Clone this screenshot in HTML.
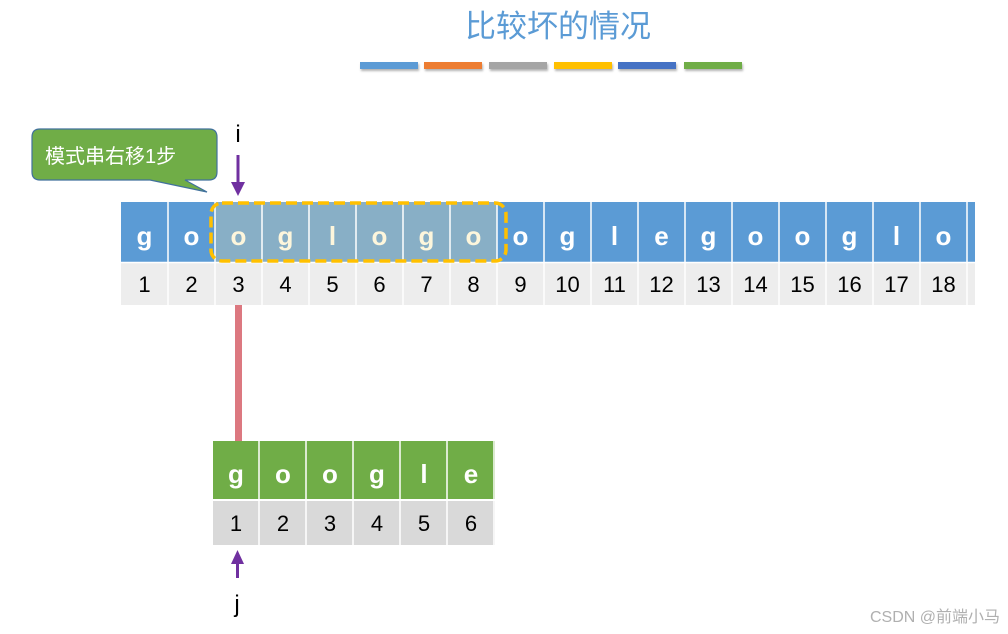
<!DOCTYPE html>
<html><head><meta charset="utf-8"><style>
html,body{margin:0;padding:0;background:#fff;}
svg{display:block;}
text{font-family:"Liberation Sans","Noto Sans CJK SC",sans-serif;}
</style></head><body>
<svg width="1008" height="634" viewBox="0 0 1008 634" xmlns="http://www.w3.org/2000/svg">
<defs><filter id="sh" x="-10%" y="-50%" width="130%" height="250%"><feDropShadow dx="1" dy="2" stdDeviation="1" flood-opacity="0.3"/></filter></defs>
<text x="558" y="37" text-anchor="middle" font-size="31" fill="#5b9bd5" font-family="Noto Sans CJK SC, sans-serif">比较坏的情况</text>
<g filter="url(#sh)">
<rect x="360" y="62" width="58" height="7" fill="#5b9bd5"/>
<rect x="424" y="62" width="58" height="7" fill="#ed7d31"/>
<rect x="489" y="62" width="58" height="7" fill="#a5a5a5"/>
<rect x="554" y="62" width="58" height="7" fill="#ffc000"/>
<rect x="618" y="62" width="58" height="7" fill="#4472c4"/>
<rect x="684" y="62" width="58" height="7" fill="#70ad47"/>
</g>
<!-- callout -->
<path d="M40,129 H209 Q217,129 217,137 V172 Q217,180 209,180 H185 L207,192 L150,180 H40 Q32,180 32,172 V137 Q32,129 40,129 Z" fill="#70ad47" stroke="#41719c" stroke-width="1.2"/>
<text x="45" y="163" font-size="20" fill="#fff" font-family="Noto Sans CJK SC, sans-serif">模式串右移1步</text>
<!-- i arrow -->
<text x="238" y="142" text-anchor="middle" font-size="24" fill="#000">i</text>
<line x1="238" y1="155" x2="238" y2="184" stroke="#7030a0" stroke-width="3"/>
<polygon points="231,182 245,182 238,196" fill="#7030a0"/>
<!-- main row -->
<g id="main">
<rect x="121" y="202" width="847" height="60" fill="#5b9bd5"/>
<rect x="968" y="202" width="7" height="60" fill="#5b9bd5"/>
<rect x="121" y="263" width="854" height="42" fill="#ededed"/>
<rect x="215" y="202" width="282" height="60" fill="#88afc6"/>
</g>
<g stroke="#fff" stroke-width="1.5">
<line x1="121" y1="262.5" x2="975" y2="262.5"/>
<line x1="168" y1="202" x2="168" y2="305"/><line x1="215" y1="202" x2="215" y2="305"/>
<line x1="262" y1="202" x2="262" y2="305"/><line x1="309" y1="202" x2="309" y2="305"/>
<line x1="356" y1="202" x2="356" y2="305"/><line x1="403" y1="202" x2="403" y2="305"/>
<line x1="450" y1="202" x2="450" y2="305"/><line x1="497" y1="202" x2="497" y2="305"/>
<line x1="544" y1="202" x2="544" y2="305"/><line x1="591" y1="202" x2="591" y2="305"/>
<line x1="638" y1="202" x2="638" y2="305"/><line x1="685" y1="202" x2="685" y2="305"/>
<line x1="732" y1="202" x2="732" y2="305"/><line x1="779" y1="202" x2="779" y2="305"/>
<line x1="826" y1="202" x2="826" y2="305"/><line x1="873" y1="202" x2="873" y2="305"/>
<line x1="920" y1="202" x2="920" y2="305"/><line x1="967" y1="202" x2="967" y2="305"/>
</g>
<g font-size="26" font-weight="bold" text-anchor="middle" fill="#fff">
<text x="144.5" y="245">g</text><text x="191.5" y="245">o</text>
<text x="238.5" y="245" fill="#fdf6dc">o</text><text x="285.5" y="245" fill="#fdf6dc">g</text>
<text x="332.5" y="245" fill="#fdf6dc">l</text><text x="379.5" y="245" fill="#fdf6dc">o</text>
<text x="426.5" y="245" fill="#fdf6dc">g</text><text x="473.5" y="245" fill="#fdf6dc">o</text>
<text x="520.5" y="245">o</text><text x="567.5" y="245">g</text>
<text x="614.5" y="245">l</text><text x="661.5" y="245">e</text>
<text x="708.5" y="245">g</text><text x="755.5" y="245">o</text>
<text x="802.5" y="245">o</text><text x="849.5" y="245">g</text>
<text x="896.5" y="245">l</text><text x="943.5" y="245">o</text>
</g>
<g font-size="22" text-anchor="middle" fill="#000">
<text x="144.5" y="292">1</text><text x="191.5" y="292">2</text><text x="238.5" y="292">3</text>
<text x="285.5" y="292">4</text><text x="332.5" y="292">5</text><text x="379.5" y="292">6</text>
<text x="426.5" y="292">7</text><text x="473.5" y="292">8</text><text x="520.5" y="292">9</text>
<text x="567.5" y="292">10</text><text x="614.5" y="292">11</text><text x="661.5" y="292">12</text>
<text x="708.5" y="292">13</text><text x="755.5" y="292">14</text><text x="802.5" y="292">15</text>
<text x="849.5" y="292">16</text><text x="896.5" y="292">17</text><text x="943.5" y="292">18</text>
</g>
<rect x="211" y="203" width="295" height="58" rx="11" fill="none" stroke="#ffc000" stroke-width="3.5" stroke-dasharray="11,5"/>
<!-- connector -->
<rect x="235" y="305" width="7" height="136" fill="#dc7880"/>
<!-- pattern -->
<rect x="213" y="441" width="282" height="58" fill="#70ad47"/>
<rect x="213" y="501" width="282" height="44" fill="#d9d9d9"/>
<g stroke="#fff" stroke-width="1.5">
<line x1="213" y1="500" x2="495" y2="500"/>
<line x1="259" y1="441" x2="259" y2="545"/><line x1="306" y1="441" x2="306" y2="545"/>
<line x1="353" y1="441" x2="353" y2="545"/><line x1="400" y1="441" x2="400" y2="545"/>
<line x1="447" y1="441" x2="447" y2="545"/><line x1="494" y1="441" x2="494" y2="545"/>
</g>
<g font-size="26" font-weight="bold" text-anchor="middle" fill="#fff">
<text x="236" y="483">g</text><text x="283" y="483">o</text><text x="330" y="483">o</text>
<text x="377" y="483">g</text><text x="424" y="483">l</text><text x="471" y="483">e</text>
</g>
<g font-size="22" text-anchor="middle" fill="#000">
<text x="236" y="531">1</text><text x="283" y="531">2</text><text x="330" y="531">3</text>
<text x="377" y="531">4</text><text x="424" y="531">5</text><text x="471" y="531">6</text>
</g>
<!-- j arrow -->
<polygon points="231,564 244,564 237.5,550" fill="#7030a0"/>
<line x1="237.5" y1="562" x2="237.5" y2="578" stroke="#7030a0" stroke-width="3"/>
<text x="237" y="612" text-anchor="middle" font-size="24" fill="#000">j</text>
<text x="1000" y="622" text-anchor="end" font-size="16" fill="#b0b0b0" font-family="Liberation Sans, Noto Sans CJK SC, sans-serif">CSDN @前端小马</text>
</svg>
</body></html>
